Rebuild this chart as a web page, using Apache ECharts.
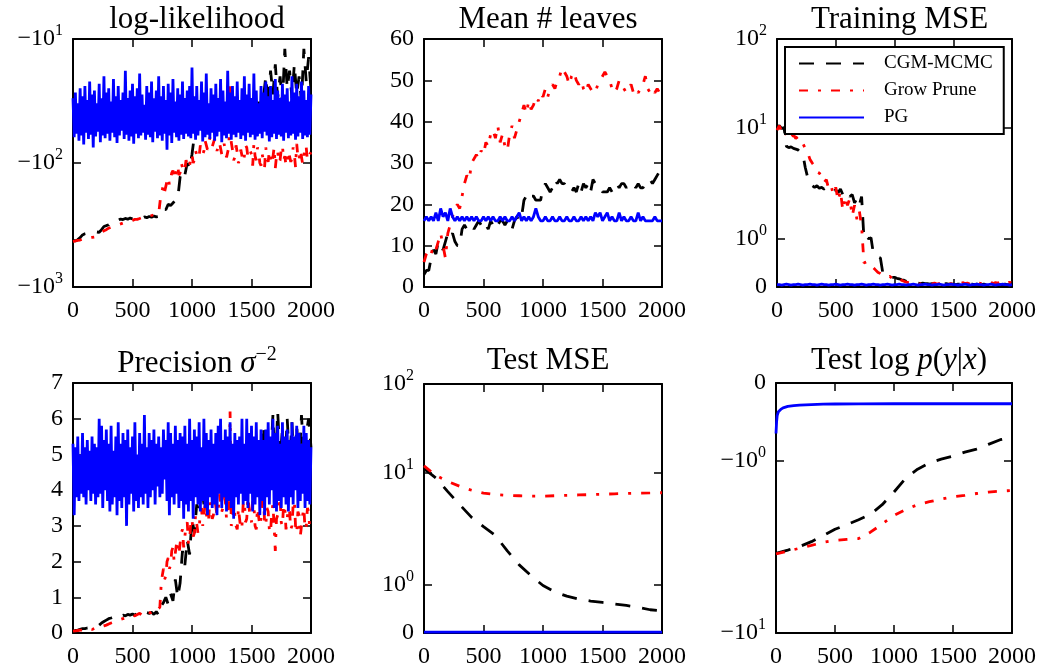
<!DOCTYPE html>
<html><head><meta charset="utf-8">
<script src="https://cdn.jsdelivr.net/npm/echarts@6/dist/echarts.min.js"></script>
<style>html,body{margin:0;padding:0;background:#fff}#c{width:1050px;height:671px}</style>
</head><body><div id="c"></div>
<script>
// ---------------- DATA ----------------
const seriesNames = ['CGM-MCMC', 'Grow Prune', 'PG'];
const panelTitles = ['log-likelihood', 'Mean # leaves', 'Training MSE', 'Precision σ−2', 'Test MSE', 'Test log p(y|x)'];
const STEP = 20;     // iteration spacing of the sparser trace samples (0..2000)
const DENSE = 10;    // iteration spacing of the dense trace samples (0..2000)
const xTicks = [0, 500, 1000, 1500, 2000];

// log-likelihood traces
const llCGM = [-420,-425,-415,-400,-380,-372,-368,-370,-372,-366,
 -360,-362,-345,-325,-320,-315,-300,-290,-285,-288,
 -283,-286,-280,-284,-278,-282,-276,-280,-274,-278,
 -272,-276,-270,-274,-268,-272,-270,-240,-235,-238,
 -215,-220,-210,-200,-195,-130,-115,-125,-100,-110,
 -85,-60,-45,-55,-40,-50,-38,-52,-42,-48,
 -36,-50,-40,-55,-38,-46,-35,-50,-42,-48,
 -36,-52,-40,-45,-35,-48,-38,-50,-32,-45,
 -30,-20,-35,-18,-28,-16,-30,-20,-33,-12,
 -25,-18,-30,-16,-28,-20,-32,-12,-22,-14,-26];
const llGP = [-430,-428,-425,-426,-420,-422,-418,-416,-412,-414,-405,-410,-408,-404,-400,-402,-398,-396,-395,-390,
 -385,-380,-372,-368,-362,-358,-352,-348,-345,-340,-335,-338,-330,-328,-325,-322,-320,-318,-315,-312,
 -310,-308,-305,-302,-300,-303,-300,-297,-295,-292,-290,-288,-285,-287,-285,-282,-280,-278,-275,-277,
 -275,-272,-270,-268,-268,-266,-265,-263,-262,-261,-260,-258,-255,-250,-175,-165,-150,-170,-165,-140,
 -130,-150,-145,-120,-115,-135,-130,-110,-105,-125,-120,-100,-98,-118,-112,-95,-95,-110,-105,-90,
 -85,-100,-95,-80,-78,-92,-88,-72,-70,-85,-80,-66,-65,-78,-75,-62,-60,-74,-72,-64,
 -64,-80,-78,-68,-66,-85,-82,-70,-70,-90,-88,-74,-24,-68,-78,-95,-90,-72,-82,-100,
 -95,-78,-80,-98,-88,-72,-75,-90,-92,-80,-85,-105,-70,-88,-95,-75,-80,-100,-105,-85,
 -85,-108,-75,-90,-98,-80,-82,-102,-90,-75,-110,-88,-80,-100,-95,-78,-72,-95,-88,-105,
 -100,-80,-78,-98,-92,-75,-85,-108,-70,-90,-95,-78,-80,-102,-90,-72,-75,-95,-98,-85,-82];
const llPG = [-30,-62,-27,-58,-33,-66,-25,-60,-29,-71,-24,-57,-31,-64,-22,-59,-28,-75,-26,-61,
 -33,-56,-23,-68,-30,-60,-20,-63,-27,-58,-25,-66,-32,-57,-21,-62,-29,-69,-24,-60,
 -31,-55,-27,-64,-18,-59,-30,-66,-26,-61,-23,-70,-29,-58,-25,-63,-19,-60,-28,-57,
 -34,-65,-24,-59,-27,-62,-22,-68,-30,-56,-26,-63,-20,-60,-29,-66,-24,-58,-31,-78,
 -23,-60,-27,-69,-21,-57,-32,-62,-25,-66,-28,-59,-22,-64,-30,-58,-26,-61,-24,-63,
 -17,-58,-29,-65,-24,-60,-31,-55,-22,-67,-27,-62,-19,-59,-33,-64,-25,-57,-28,-66,
 -23,-61,-30,-56,-21,-68,-26,-60,-32,-63,-18,-58,-27,-65,-24,-59,-29,-62,-22,-57,
 -31,-64,-25,-60,-20,-66,-28,-57,-23,-62,-30,-59,-19,-65,-26,-61,-33,-58,-24,-63,
 -27,-56,-22,-60,-29,-67,-24,-62,-31,-58,-21,-64,-26,-59,-30,-61,-23,-66,-28,-57,
 -25,-63,-32,-60,-20,-58,-27,-65,-23,-61,-29,-57,-22,-64,-26,-60,-31,-62,-24,-59,-28];

// mean number of leaves
const lvCGM = [3,4,4,7,9,8,11,10,9,11,
 13,12,13,11,10,10,14,15,14,15,
 15,14,15,16,15,16,15,14,16,15,
 16,15,16,16,15,16,16,14,16,17,
 16,17,21,22,21,22,22,21,21,21,
 24,25,24,23,24,26,25,26,25,25,
 24,23,23,24,23,25,23,25,24,25,
 23,26,25,24,24,23,23,23,24,23,
 24,25,24,25,25,24,25,25,25,24,
 25,24,24,25,25,26,25,26,27,28,27];
const lvGP = [6,8,9,8,10,9,11,13,10,7,
 13,15,17,19,20,19,22,25,27,26,
 30,31,32,31,33,32,35,34,37,38,
 36,39,35,37,34,33,37,39,36,38,
 40,42,44,42,45,43,44,46,45,47,
 46,48,46,48,49,48,50,51,53,52,
 51,49,51,52,50,49,50,48,47,49,
 48,47,47,49,50,51,52,51,50,48,
 47,48,50,49,48,47,48,49,47,48,
 47,48,49,51,48,47,48,47,48,47,48];
const lvPG = [16,17,16,17,16,18,16,19,17,18,
 16,19,17,16,17,16,17,16,17,16,
 17,16,17,16,16,17,16,17,16,17,
 16,16,17,16,17,16,16,17,16,17,
 18,16,17,16,17,16,17,19,17,16,
 16,17,16,16,17,16,16,17,16,16,
 17,16,16,17,16,16,17,16,17,16,
 17,16,18,17,18,16,17,18,16,17,
 16,16,18,16,17,16,16,17,16,16,
 18,16,17,16,16,16,16,17,16,16,16];

// training MSE
const trCGM = [10,10.5,9.8,10,6.8,6.6,6.7,6.5,6.4,6.3,
 6.0,5.8,4.4,3.6,3.2,3.0,2.9,3.0,2.85,2.9,
 2.8,2.9,2.75,2.8,2.7,2.75,2.6,2.8,2.5,2.7,
 2.6,2.4,2.5,2.1,2.3,2.0,2.4,1.0,1.05,1.0,
 1.02,0.7,0.68,0.62,0.6,0.3,0.25,0.22,0.22,0.2,
 0.2,0.18,0.17,0.15,0.14,0.12,0.1,0.1,0.09,0.08,
 0.08,0.07,0.08,0.07,0.07,0.06,0.07,0.06,0.06,0.07,
 0.06,0.06,0.07,0.06,0.06,0.06,0.05,0.06,0.06,0.05,
 0.06,0.05,0.06,0.06,0.05,0.06,0.05,0.05,0.06,0.05,
 0.05,0.06,0.05,0.05,0.06,0.05,0.05,0.06,0.05,0.05,0.05];
const trGP = [9.5,10.5,9.2,9.8,8.5,9.0,8.2,8.6,8.0,8.3,
 7.8,7.2,6.5,6.0,5.2,4.8,4.5,4.0,3.9,3.6,
 3.2,3.4,2.8,3.0,2.5,2.9,2.2,2.7,1.8,2.4,
 2.0,2.3,1.6,2.0,1.5,1.8,1.3,0.5,0.52,0.45,
 0.42,0.4,0.35,0.3,0.28,0.25,0.22,0.2,0.22,0.18,
 0.2,0.16,0.17,0.14,0.12,0.1,0.09,0.08,0.07,0.08,
 0.07,0.06,0.08,0.07,0.06,0.07,0.06,0.08,0.06,0.07,
 0.06,0.07,0.08,0.06,0.07,0.06,0.08,0.07,0.06,0.09,
 0.07,0.08,0.06,0.09,0.07,0.1,0.08,0.07,0.09,0.06,
 0.08,0.1,0.07,0.09,0.08,0.1,0.07,0.09,0.08,0.1,0.08];
const trPG = [0.05,0.05,0.04,0.05,0.06,0.05,0.04,0.05,0.05,0.06,
 0.05,0.04,0.05,0.05,0.06,0.05,0.05,0.04,0.05,0.06,
 0.05,0.05,0.04,0.05,0.05,0.06,0.05,0.04,0.05,0.05,
 0.06,0.05,0.05,0.04,0.05,0.05,0.06,0.05,0.04,0.05,
 0.05,0.06,0.05,0.05,0.04,0.05,0.05,0.06,0.05,0.04,
 0.05,0.05,0.06,0.05,0.05,0.04,0.05,0.05,0.06,0.05,
 0.04,0.05,0.05,0.06,0.05,0.05,0.04,0.05,0.05,0.06,
 0.05,0.04,0.05,0.05,0.06,0.05,0.05,0.04,0.05,0.05,
 0.06,0.05,0.04,0.05,0.05,0.06,0.05,0.05,0.04,0.05,
 0.05,0.06,0.05,0.04,0.05,0.05,0.06,0.05,0.05,0.04,0.05];

// precision sigma^-2
const prCGM = [0.05,0.07,0.08,0.1,0.12,0.12,0.14,0.15,0.16,0.18,
 0.2,0.22,0.28,0.32,0.36,0.4,0.42,0.45,0.44,0.48,
 0.46,0.5,0.48,0.52,0.5,0.53,0.5,0.55,0.52,0.56,
 0.53,0.57,0.55,0.58,0.52,0.6,0.5,0.75,0.85,1.0,
 0.8,1.1,0.9,1.5,1.0,1.4,2.3,1.9,2.6,2.2,
 3.2,2.8,3.6,3.4,4.2,3.6,4.8,3.9,4.5,3.7,
 5.0,4.0,4.6,3.8,5.1,4.2,4.7,3.9,5.2,4.1,
 4.8,4.0,5.3,4.3,5.0,4.2,5.5,4.4,5.2,4.5,
 5.8,4.6,5.6,4.8,6.1,4.5,6.2,4.9,5.7,4.6,
 6.0,4.8,5.9,4.4,5.8,4.7,6.1,4.9,5.6,6.0,5.2];
const prGP = [0.05,0.05,0.06,0.06,0.07,0.07,0.08,0.08,0.08,0.09,0.1,0.09,0.09,0.1,0.12,0.11,0.1,0.12,0.13,0.14,
 0.15,0.14,0.14,0.16,0.18,0.19,0.2,0.21,0.22,0.24,0.25,0.27,0.28,0.29,0.3,0.32,0.33,0.34,0.35,0.37,
 0.38,0.39,0.4,0.41,0.42,0.44,0.45,0.47,0.48,0.46,0.5,0.52,0.48,0.5,0.52,0.54,0.55,0.5,0.5,0.56,
 0.58,0.54,0.55,0.6,0.6,0.56,0.57,0.62,0.62,0.58,0.6,0.66,0.68,0.72,1.3,1.6,1.8,1.5,1.6,2.0,
 2.1,1.8,1.9,2.3,2.4,2.0,2.0,2.5,2.6,2.2,2.2,2.8,2.9,2.4,2.4,3.0,3.1,2.5,2.6,3.1,
 3.2,2.7,2.8,3.3,3.3,2.8,2.9,3.4,3.5,3.0,3.0,3.6,3.6,3.1,3.2,3.7,3.7,3.2,3.3,3.8,
 3.8,3.3,3.4,3.9,3.9,3.4,3.5,3.8,3.7,3.2,3.3,3.7,6.2,3.0,3.1,3.6,3.6,3.0,2.9,3.5,
 3.5,2.9,3.0,3.6,3.7,3.1,3.2,3.8,3.8,3.2,3.1,3.7,3.6,3.0,2.9,3.5,3.5,3.0,3.2,3.8,
 3.9,3.1,3.0,3.5,3.4,2.9,2.8,3.4,3.6,3.0,2.3,3.2,3.3,3.7,3.8,3.1,3.0,3.6,3.5,2.9,
 2.9,3.5,3.4,2.9,3.0,3.6,3.7,3.0,2.8,3.4,3.3,2.7,2.7,3.3,3.5,2.9,3.0,3.5,3.4,2.9,3.0];
const prPG = [5.3,3.3,5.2,3.8,5.5,3.7,5.0,3.9,5.6,3.8,5.2,3.6,5.4,4.0,5.1,3.7,5.5,3.9,5.3,3.6,
 5.2,3.8,6.0,3.9,5.8,3.5,5.4,4.0,5.7,3.7,5.3,3.4,5.8,3.6,5.1,3.8,5.5,3.3,5.9,3.7,
 5.3,3.5,5.6,3.8,5.4,3.0,5.7,3.6,5.2,3.9,5.5,3.4,5.9,3.7,5.0,3.5,5.6,3.8,5.3,3.6,
 6.1,3.9,5.2,3.5,5.6,3.8,5.4,4.0,5.7,3.6,5.3,4.1,5.5,3.8,5.2,3.9,5.7,4.3,5.4,3.7,
 5.9,3.3,5.6,3.8,5.3,3.6,5.8,3.9,5.4,3.5,5.6,3.7,5.5,3.2,5.8,3.6,5.3,3.4,6.0,3.7,
 5.4,3.2,5.7,3.8,5.5,3.6,5.9,3.4,5.2,3.7,6.0,3.5,5.6,3.3,5.4,3.8,5.7,3.5,5.3,3.6,
 5.6,3.3,5.8,3.9,6.0,3.5,5.4,3.8,5.7,3.4,5.5,3.7,5.9,3.5,5.3,3.2,5.6,3.8,5.4,3.6,
 5.5,3.9,6.0,3.6,5.3,3.7,6.0,3.5,5.6,3.9,5.8,3.4,5.5,3.6,5.9,3.8,5.4,3.3,5.7,3.7,
 5.4,3.3,5.7,3.8,5.9,3.6,5.5,4.0,6.0,3.5,5.6,3.4,5.8,3.7,5.3,3.5,5.9,3.8,5.5,3.6,
 5.7,3.4,5.4,3.8,5.9,3.6,5.5,4.0,5.8,3.5,5.6,3.7,5.3,3.9,5.8,3.5,5.6,3.7,5.4,3.6,5.2];

// test curves (sampled every 100 iterations)
const testIter = [0,100,200,300,400,500,600,700,800,900,1000,1100,1200,1300,1400,1500,1600,1700,1800,1900,2000];
const teCGM = [11.2,9.0,6.8,5.2,4.0,3.3,2.75,2.0,1.5,1.2,0.98,0.85,0.76,0.7,0.66,0.63,0.6,0.57,0.53,0.48,0.46];
const teGP = [12.0,9.5,8.4,7.6,7.0,6.6,6.4,6.3,6.25,6.2,6.2,6.25,6.3,6.35,6.4,6.45,6.5,6.55,6.6,6.62,6.65];
const tePG = [0.02,0.02,0.02,0.02,0.02,0.02,0.02,0.02,0.02,0.02,0.02,0.02,0.02,0.02,0.02,0.02,0.02,0.02,0.02,0.02,0.02];
const lpCGM = [-3.45,-3.3,-3.15,-2.95,-2.72,-2.5,-2.35,-2.2,-2.05,-1.8,-1.52,-1.26,-1.12,-1.03,-0.98,-0.94,-0.89,-0.85,-0.79,-0.73,-0.7];
const lpGP = [-3.47,-3.35,-3.22,-3.1,-2.98,-2.9,-2.86,-2.83,-2.6,-2.33,-2.08,-1.92,-1.8,-1.73,-1.67,-1.62,-1.59,-1.55,-1.52,-1.5,-1.49];
const lpIterPG = [0,5,10,20,40,60,100,150,200,300,400,500,700,1000,1500,2000];
const lpPG = [-0.65,-0.5,-0.42,-0.37,-0.34,-0.32,-0.3,-0.29,-0.285,-0.278,-0.272,-0.27,-0.268,-0.267,-0.267,-0.267];

// y tick values and labels ([base, exponent])
const llTicks = [-1000, -100, -10];
const llTickLabels = [['−10','3'], ['−10','2'], ['−10','1']];
const mseTicks = [0, 1, 10, 100];
const mseTickLabels = [['0',''], ['10','0'], ['10','1'], ['10','2']];
const lpTicks = [-10, -1, 0];
const lpTickLabels = [['−10','1'], ['−10','0'], ['0','']];

// ---------------- SCALES (symlog-like axes as drawn in the figure) ----------------
const llScale = v => -Math.log10(-v);
const mseScale = v => v <= 1 ? v * 0.434 : (v <= 10 ? 0.434 + Math.log10(v) : 1.434 + 0.797 * (Math.log10(v) - 1));
const lpScale = v => { const a = Math.abs(v); return -(a <= 1 ? a * 0.451 : 0.451 + Math.log10(a)); };
const ident = v => v;

// ---------------- CHART ----------------
const FONT = '"Liberation Serif","DejaVu Serif",serif';
const COLORS = ['#000000', '#ff0000', '#0000ff'];
const DASH = [[15, 12], [9, 10, 3, 10], 'solid'];

const grids = [
  {left: 73, top: 39, width: 238, height: 248},
  {left: 424, top: 39, width: 238, height: 248},
  {left: 777, top: 39, width: 235, height: 248},
  {left: 73, top: 383, width: 238, height: 250},
  {left: 424, top: 384, width: 238, height: 249},
  {left: 776, top: 383, width: 236, height: 250}
];

const rich = {
  b: {fontSize: 24, fontFamily: FONT, color: '#000'},
  s: {fontSize: 16, fontFamily: FONT, color: '#000', padding: [0, 0, 16, 0]}
};
function tickFormatter(ticks, labels, scale) {
  const tv = ticks.map(scale);
  return val => {
    const i = tv.findIndex(t => Math.abs(t - val) < 1e-6);
    if (i < 0) return '';
    const [b, e] = labels[i];
    return e ? `{b|${b}}{s|${e}}` : `{b|${b}}`;
  };
}

const axisLine = {show: true, onZero: false, lineStyle: {color: '#000', width: 2}};
const axisTickBase = {show: true, inside: true, length: 8, lineStyle: {color: '#000', width: 1.5}};
const xAxis = [], yAxis = [], series = [], titles = [];

function addPanel(gi, ycfg, traces) {
  for (const pos of ['bottom', 'top']) {
    xAxis.push({
      type: 'value', gridIndex: gi, position: pos, min: xTicks[0], max: xTicks[xTicks.length - 1],
      interval: xTicks[1] - xTicks[0],
      axisLine, splitLine: {show: false},
      axisTick: Object.assign({}, axisTickBase),
      axisLabel: {show: pos === 'bottom', color: '#000', fontFamily: FONT, fontSize: 24, margin: 12,
        formatter: v => String(v), showMinLabel: true, showMaxLabel: true}
    });
  }
  for (const pos of ['left', 'right']) {
    const ax = {
      type: 'value', gridIndex: gi, position: pos, min: ycfg.min, max: ycfg.max,
      axisLine, splitLine: {show: false},
      axisTick: Object.assign({}, axisTickBase),
      axisLabel: {show: pos === 'left', color: '#000', fontFamily: FONT, fontSize: 24, margin: 10,
        showMinLabel: true, showMaxLabel: true}
    };
    if (ycfg.custom) {
      ax.axisTick.customValues = ycfg.custom;
      ax.axisLabel.customValues = ycfg.custom;
      ax.axisLabel.formatter = ycfg.formatter;
      ax.axisLabel.rich = rich;
    } else {
      ax.interval = ycfg.interval;
      ax.axisLabel.formatter = v => String(v);
    }
    yAxis.push(ax);
  }
  traces.forEach((tr, k) => {
    series.push({
      type: 'line', name: seriesNames[k], xAxisIndex: 2 * gi, yAxisIndex: 2 * gi,
      data: tr.x.map((x, i) => [x, ycfg.scale(tr.y[i])]),
      showSymbol: false, symbol: 'none', animation: false, silent: true, clip: true,
      lineStyle: {color: COLORS[k], width: 2.8, type: DASH[k]},
      itemStyle: {color: COLORS[k]}, z: 2 + k
    });
  });
}

const iterOf = (arr, step) => arr.map((_, i) => i * step);

addPanel(0, {min: -3, max: -1, scale: llScale, custom: llTicks.map(llScale), formatter: tickFormatter(llTicks, llTickLabels, llScale)},
  [{x: iterOf(llCGM, STEP), y: llCGM}, {x: iterOf(llGP, DENSE), y: llGP}, {x: iterOf(llPG, DENSE), y: llPG}]);
addPanel(1, {min: 0, max: 60, interval: 10, scale: ident},
  [{x: iterOf(lvCGM, STEP), y: lvCGM}, {x: iterOf(lvGP, STEP), y: lvGP}, {x: iterOf(lvPG, STEP), y: lvPG}]);
addPanel(2, {min: 0, max: mseScale(100), scale: mseScale, custom: mseTicks.map(mseScale), formatter: tickFormatter(mseTicks, mseTickLabels, mseScale)},
  [{x: iterOf(trCGM, STEP), y: trCGM}, {x: iterOf(trGP, STEP), y: trGP}, {x: iterOf(trPG, STEP), y: trPG}]);
addPanel(3, {min: 0, max: 7, interval: 1, scale: ident},
  [{x: iterOf(prCGM, STEP), y: prCGM}, {x: iterOf(prGP, DENSE), y: prGP}, {x: iterOf(prPG, DENSE), y: prPG}]);
addPanel(4, {min: 0, max: mseScale(100), scale: mseScale, custom: mseTicks.map(mseScale), formatter: tickFormatter(mseTicks, mseTickLabels, mseScale)},
  [{x: testIter, y: teCGM}, {x: testIter, y: teGP}, {x: testIter, y: tePG}]);
addPanel(5, {min: lpScale(-10), max: 0, scale: lpScale, custom: lpTicks.map(lpScale), formatter: tickFormatter(lpTicks, lpTickLabels, lpScale)},
  [{x: testIter, y: lpCGM}, {x: testIter, y: lpGP}, {x: lpIterPG, y: lpPG}]);

const titleRich = {
  r: {fontSize: 31, fontFamily: FONT, color: '#000'},
  i: {fontSize: 31, fontFamily: FONT, color: '#000', fontStyle: 'italic'},
  s: {fontSize: 20, fontFamily: FONT, color: '#000', padding: [0, 0, 18, 0]}
};
const titleTexts = [
  `{r|${panelTitles[0]}}`,
  `{r|${panelTitles[1]}}`,
  `{r|${panelTitles[2]}}`,
  '{r|Precision }{i|σ}{s|−2}',
  `{r|${panelTitles[4]}}`,
  '{r|Test log }{i|p}{r|(}{i|y}{r||}{i|x}{r|)}'
];
grids.forEach((g, i) => {
  titles.push({
    text: titleTexts[i], left: g.left + g.width / 2, top: i < 3 ? -1 : 340, textAlign: 'center',
    textStyle: {rich: titleRich, fontFamily: FONT, fontSize: 31, fontWeight: 'normal', color: '#000'}
  });
});

const option = {
  backgroundColor: '#fff',
  animation: false,
  title: titles,
  grid: grids.map(g => Object.assign({containLabel: false}, g)),
  xAxis, yAxis, series,
  legend: {
    data: seriesNames, orient: 'vertical', left: 785, top: 47,
    backgroundColor: '#fff', borderColor: '#000', borderWidth: 2, borderRadius: 0,
    padding: [7, 11, 7, 13], itemWidth: 65, itemHeight: 14, itemGap: 8,
    selectedMode: false, z: 20,
    itemStyle: {opacity: 0},
    textStyle: {fontFamily: FONT, fontSize: 19, color: '#000', lineHeight: 19, padding: [0, 0, 0, 15]}
  }
};
const chart = echarts.init(document.getElementById('c'), null, {renderer: 'canvas'});
chart.setOption(option);
</script>
</body></html>
